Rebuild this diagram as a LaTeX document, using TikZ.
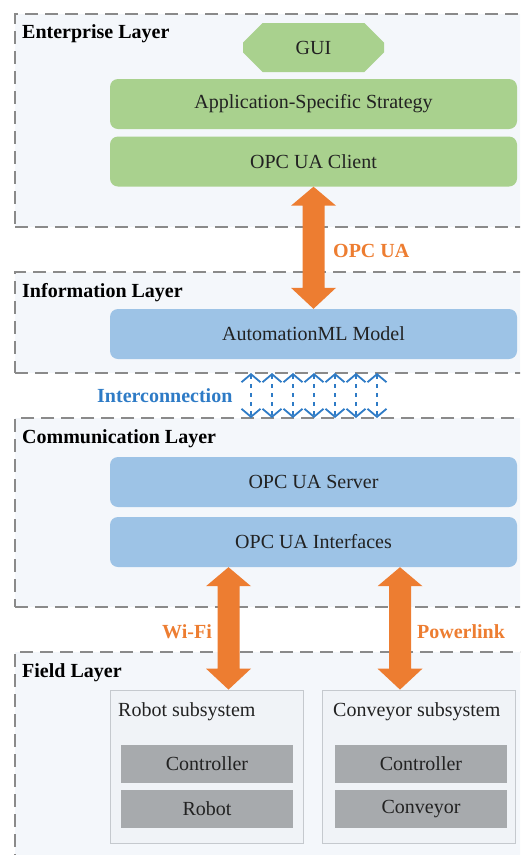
\documentclass[tikz,border=0pt]{standalone}
\usepackage{fontspec}
\setmainfont{Liberation Serif}
\usetikzlibrary{calc,arrows.meta,shapes.misc}

\definecolor{layerfill}{HTML}{F4F7FB}
\definecolor{layerline}{HTML}{8A8A8A}
\definecolor{entgreen}{HTML}{A9D18E}
\definecolor{infoblue}{HTML}{9DC3E6}
\definecolor{devgray}{HTML}{A7AAAD}
\definecolor{subfill}{HTML}{F0F3F7}
\definecolor{subline}{HTML}{C5C9CE}
\definecolor{linkorange}{HTML}{ED7D31}
\definecolor{linkblue}{HTML}{2E7BC6}
\definecolor{inktext}{HTML}{222222}

% wide two-headed arrow between two points (top, bottom)
\newcommand{\fatlink}[2]{%
  \fill[fatarrow] (#1) -- ($(#1)+(22.5pt,-19pt)$) -- ($(#1)+(11pt,-19pt)$)
    -- ($(#2)+(11pt,21pt)$) -- ($(#2)+(22.5pt,21pt)$) -- (#2)
    -- ($(#2)+(-22.5pt,21pt)$) -- ($(#2)+(-11pt,21pt)$)
    -- ($(#1)+(-11pt,-19pt)$) -- ($(#1)+(-22.5pt,-19pt)$) -- cycle;}

\begin{document}
\begin{tikzpicture}[x=1pt,y=-1pt,
  font=\fontsize{20}{24}\selectfont,
  layer/.style={draw=layerline, fill=layerfill, line width=1.3pt,
    dash pattern=on 13pt off 7pt, inner sep=0pt, outer sep=0pt, anchor=north west},
  layername/.style={anchor=base west, inner sep=0pt,
    font=\fontsize{20}{24}\selectfont\bfseries, text=black},
  stackbox/.style={rounded corners=8pt, minimum width=407pt, minimum height=50pt,
    inner sep=0pt, text=inktext},
  greenbox/.style={stackbox, fill=entgreen},
  bluebox/.style={stackbox, fill=infoblue},
  subsys/.style={draw=subline, fill=subfill, line width=0.8pt,
    minimum width=193pt, minimum height=153pt, inner sep=0pt},
  devbox/.style={fill=devgray, minimum width=172pt, minimum height=38pt,
    inner sep=0pt, text=inktext},
  plainlabel/.style={anchor=base west, inner sep=0pt, text=inktext},
  linklabel/.style={anchor=base west, inner sep=0pt,
    font=\fontsize{20}{24}\selectfont\bfseries},
  fatarrow/.style={fill=linkorange},
  syncarrow/.style={draw=linkblue, line width=1.8pt, dash pattern=on 4pt off 5pt,
    {Straight Barb[length=8pt,width=19pt]}-{Straight Barb[length=8pt,width=19pt]}}
]
\useasboundingbox (0,0) rectangle (520,855);
\clip (0,0) rectangle (520,855);

% layers
\node[layer, minimum width=525pt, minimum height=213pt] (entlayer) at (15,14) {};
\node[layer, minimum width=525pt, minimum height=101pt] (infolayer) at (15,272) {};
\node[layer, minimum width=525pt, minimum height=189pt] (commlayer) at (15,418) {};
\node[layer, minimum width=525pt, minimum height=228pt] (fieldlayer) at (15,652) {};

\node[layername] (entname) at (22,38) {Enterprise Layer};
\node[layername] (infoname) at (22,297) {Information Layer};
\node[layername] (commname) at (22,443) {Communication Layer};
\node[layername] (fieldname) at (22,677) {Field Layer};

% enterprise layer
\node[chamfered rectangle, chamfered rectangle xsep=13pt, chamfered rectangle ysep=13pt,
  fill=entgreen, minimum width=141pt, minimum height=49pt, inner sep=0pt, text=inktext]
  (gui) at (313.5,47.5) {GUI};
\node[greenbox] (strategy) at (313.5,104) {Application-Specific Strategy};
\node[greenbox] (client) at (313.5,161.5) {OPC UA Client};

% information layer
\node[bluebox] (aml) at (313.5,334) {AutomationML Model};

% communication layer
\node[bluebox] (server) at (313.5,482) {OPC UA Server};
\node[bluebox] (ifaces) at (313.5,542) {OPC UA Interfaces};

% field layer
\node[subsys] (robotsys) at (206.5,766.5) {};
\node[plainlabel] (robotlbl) at (118,716) {Robot subsystem};
\node[devbox] (robotctrl) at (207,763.5) {Controller};
\node[devbox] (robot) at (207,809) {Robot};

\node[subsys] (convsys) at (418.5,766.5) {};
\node[plainlabel] (convlbl) at (333,716) {Conveyor subsystem};
\node[devbox] (convctrl) at (421,763.5) {Controller};
\node[devbox] (conveyor) at (421,809) {Conveyor};

% links between layers
\fatlink{client.south}{aml.north}
\node[linklabel, text=linkorange] (opcualbl) at (333,257) {OPC UA};

\foreach \k in {0,...,6}
  \draw[syncarrow] ([xshift=236pt+21pt*\k]infolayer.south west)
    -- ([xshift=236pt+21pt*\k]commlayer.north west);
\node[linklabel, text=linkblue] (interlbl) at (97,402) {Interconnection};

\coordinate (wifix) at (228.5,0);
\coordinate (plinkx) at (400,0);
\fatlink{wifix |- ifaces.south}{wifix |- robotsys.north}
\fatlink{plinkx |- ifaces.south}{plinkx |- convsys.north}
\node[linklabel, text=linkorange] (wifilbl) at (162,638) {Wi-Fi};
\node[linklabel, text=linkorange] (plinklbl) at (417,638) {Powerlink};
\end{tikzpicture}
\end{document}
